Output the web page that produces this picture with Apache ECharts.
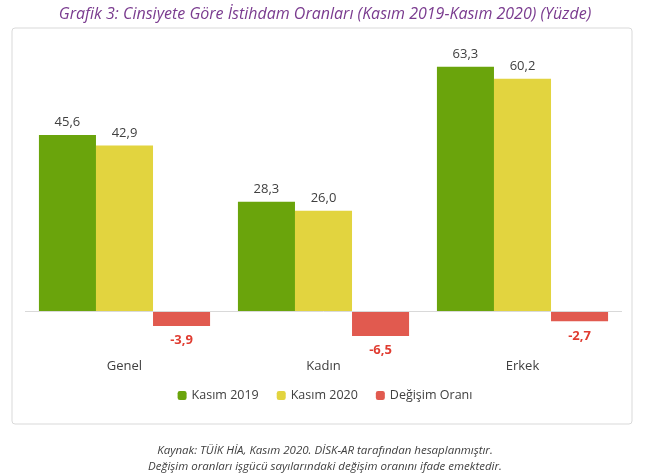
<!DOCTYPE html><html><head><meta charset="utf-8">
<script src="https://cdn.jsdelivr.net/npm/echarts@6/dist/echarts.min.js"></script>
<style>body{margin:0;background:#fff}#c{width:650px;height:475px}</style></head><body><div id="c"></div>
<script>
const categories=['Genel','Kadın','Erkek'];
const kasim2019=[45.6,28.3,63.3];
const kasim2020=[42.9,26.0,60.2];
const degisim=[-3.9,-6.5,-2.7];
const fmt=p=>p.value.toFixed(1).replace('.',',');
const chart=echarts.init(document.getElementById('c'));
const posLabel={show:true,position:'top',color:'#404040',fontSize:13,fontFamily:'Open Sans',formatter:fmt,distance:6};
const foot={color:'#404040',fontStyle:'italic',fontWeight:'normal',fontSize:11.5,fontFamily:'Open Sans'};
chart.setOption({
 animation:false,
 title:[{text:'Grafik 3: Cinsiyete Göre İstihdam Oranları (Kasım 2019-Kasım 2020) (Yüzde)',left:'center',top:1,textStyle:{color:'#7a3b8f',fontStyle:'italic',fontWeight:'normal',fontSize:16,fontFamily:'Open Sans'}},
 {text:'Kaynak: TÜİK HİA, Kasım 2020. DİSK-AR tarafından hesaplanmıştır.',left:'center',top:440,textStyle:foot},
 {text:'Değişim oranları işgücü sayılarındaki değişim oranını ifade emektedir.',left:'center',top:456,textStyle:foot}],
 graphic:[{type:'rect',shape:{x:12,y:28,width:620,height:396,r:3},style:{fill:'none',stroke:'#d9d9d9',lineWidth:1}}],
 legend:{bottom:68,left:'center',itemWidth:9,itemHeight:9,itemGap:18,textStyle:{color:'#404040',fontSize:12.5,fontFamily:'Open Sans'},data:['Kasım 2019','Kasım 2020','Değişim Oranı']},
 grid:{left:25,right:28,top:41,bottom:125.5},
 xAxis:{type:'category',data:categories,axisTick:{show:false},axisLine:{show:false},axisLabel:{color:'#404040',fontSize:13,fontFamily:'Open Sans',margin:0},position:'bottom',offset:10},
 yAxis:{type:'value',min:-10,max:70,show:false,splitLine:{show:false}},
 series:[
 {name:'Kasım 2019',type:'bar',data:kasim2019,itemStyle:{color:'#6aa40c'},barGap:'0%',barCategoryGap:'14%',label:posLabel,
  markLine:{silent:true,symbol:'none',label:{show:false},lineStyle:{color:'#d9d9d9',type:'solid',width:1},data:[{yAxis:0}]}},
 {name:'Kasım 2020',type:'bar',data:kasim2020,itemStyle:{color:'#e2d43f'},label:posLabel},
 {name:'Değişim Oranı',type:'bar',data:degisim,itemStyle:{color:'#e15a4f'},label:{show:true,position:'bottom',color:'#e03c31',fontWeight:'bold',fontSize:13,fontFamily:'Open Sans',formatter:fmt,distance:8}}
 ]
});
</script></body></html>
